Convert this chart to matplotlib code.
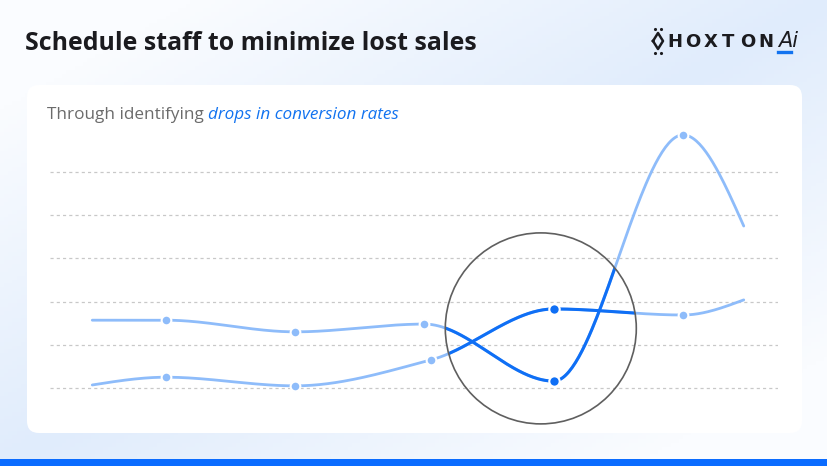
import numpy as np
import matplotlib
matplotlib.use("Agg")
import matplotlib.pyplot as plt
from matplotlib.patches import FancyBboxPatch, Ellipse, Rectangle
from matplotlib.lines import Line2D

# chart data (value units: one gridline step = 1)
x_upper = [-0.57, 0, 1, 2, 3, 4, 4.47]
y_upper = [1.57, 1.57, 1.30, 1.48, 0.16, 5.86, 3.75]
x_lower = [-0.57, 0, 1, 2.05, 3, 4, 4.47]
y_lower = [0.07, 0.25, 0.05, 0.65, 1.83, 1.69, 2.04]
grid_levels = [0, 1, 2, 3, 4, 5]
focus_point = (2.9, 1.38)   # centre of the highlight circle

title = "Schedule staff to minimize lost sales"
subtitle_plain = "Through identifying "
subtitle_accent = "drops in conversion rates"

LIGHT = "#8ebcfa"
DARK = "#0f6ff5"
W, H = 828, 466


def monotone(x, y, n=400):
    # monotone cubic (Fritsch-Carlson), like d3 curveMonotoneX
    x = np.asarray(x, float)
    y = np.asarray(y, float)
    h = np.diff(x)
    d = np.diff(y) / h
    m = np.zeros(len(x))
    for k in range(1, len(x) - 1):
        if d[k - 1] * d[k] > 0:
            w1 = 2 * h[k] + h[k - 1]
            w2 = h[k] + 2 * h[k - 1]
            m[k] = (w1 + w2) / (w1 / d[k - 1] + w2 / d[k])
    m[0] = (3 * d[0] - m[1]) / 2
    m[-1] = (3 * d[-1] - m[-2]) / 2
    xs = np.linspace(x[0], x[-1], n)
    idx = np.clip(np.searchsorted(x, xs) - 1, 0, len(h) - 1)
    t = (xs - x[idx]) / h[idx]
    h00 = 2 * t**3 - 3 * t**2 + 1
    h10 = t**3 - 2 * t**2 + t
    h01 = -2 * t**3 + 3 * t**2
    h11 = t**3 - t**2
    ys = (h00 * y[idx] + h10 * h[idx] * m[idx]
          + h01 * y[idx + 1] + h11 * h[idx] * m[idx + 1])
    return xs, ys


fig = plt.figure(figsize=(W / 100, H / 100), dpi=100)

##### background gradient
bg = fig.add_axes([0, 0, 1, 1])
gx, gy = np.meshgrid(np.linspace(0, 1, 200), np.linspace(0, 1, 120))
t = np.clip(1 - np.abs(gx + gy - 1) * 1.3, 0, 1)[..., None]
white = np.array([250, 252, 255]) / 255
blue = np.array([224, 236, 252]) / 255
bg.imshow(white * (1 - t) + blue * t, extent=[0, W, H, 0], aspect="auto")
bg.set_xlim(0, W)
bg.set_ylim(H, 0)
bg.axis("off")

# card and bottom bar
bg.add_patch(FancyBboxPatch((27, 85), 775, 348, boxstyle="round,pad=0,rounding_size=12",
                            fc="white", ec="none"))
bg.add_patch(Rectangle((0, 459), W, 7, fc="#0b6cff", ec="none"))

##### titles
bg.text(25, 43, title, fontsize=17.9, fontweight="bold", family="Open Sans",
        color="#1b1b1f", va="center")
t1 = bg.text(47, 119, subtitle_plain, fontsize=12.3, family="Open Sans",
             color="#6b6b6b", va="baseline")
bg.annotate(subtitle_accent, xy=(1, 0), xycoords=t1, fontsize=12.3,
            family="Open Sans", style="italic", color="#1273f0", va="bottom")

##### logo
ix, iy = 658, 41
bg.add_line(Line2D([ix - 5, ix, ix + 5, ix, ix - 5], [iy, iy - 8, iy, iy + 8, iy],
                   color="#1b1b1f", lw=1.8))
bg.plot([ix - 3, ix + 3], [iy - 12, iy - 12], ".", color="#1b1b1f", ms=2.5)
bg.plot([ix - 3, ix + 3], [iy + 12, iy + 12], ".", color="#1b1b1f", ms=2.5)
for i, ch in enumerate("HOXTON"):
    bg.text(667 + i * 18.2, 42, ch, fontsize=13, fontweight="bold", family="DejaVu Sans",
            color="#1b1b1f", va="center", ha="left")
bg.text(778, 41, "Ai", fontsize=15, style="italic", family="DejaVu Sans",
        fontweight="light", color="#1b1b1f", va="center", ha="left")
bg.add_line(Line2D([778, 791], [52, 52], color="#1273f0", lw=2.4))

##### chart axes
ax = fig.add_axes([50 / W, 1 - 409.6 / H, 728 / W, 289.4 / H])
ax.set_xlim(-0.897, 4.735)
ax.set_ylim(-0.5, 6.2)
ax.axis("off")
ax.patch.set_alpha(0)

for g in grid_levels:
    ax.axhline(g, color="#c8c8c8", lw=0.9, ls=(0, (2.5, 2.5)), zorder=1)

px_x = 728 / (4.735 + 0.897)
px_y = 289.4 / 6.7
radius = 95.5
ring = Ellipse(focus_point, 2 * radius / px_x, 2 * radius / px_y,
               fill=False, ec="#5f5f5f", lw=1.2, zorder=5, clip_on=False)
ax.add_patch(ring)

for xs, ys in [(x_upper, y_upper), (x_lower, y_lower)]:
    cx, cy = monotone(xs, ys)
    ax.plot(cx, cy, color=LIGHT, lw=2, zorder=3, solid_capstyle="round")
    dark, = ax.plot(cx, cy, color=DARK, lw=2.2, zorder=4)
    dark.set_clip_path(ring)
    mx = np.array(xs[1:-1])
    my = np.array(ys[1:-1])
    inside = np.isclose(mx, 3)
    ax.plot(mx[~inside], my[~inside], "o", color=LIGHT, ms=7, mec="white", mew=1.5, zorder=6)
    ax.plot(mx[inside], my[inside], "o", color=DARK, ms=7.5, mec="white", mew=1.5, zorder=6)

fig.savefig("out.png", dpi=100)
